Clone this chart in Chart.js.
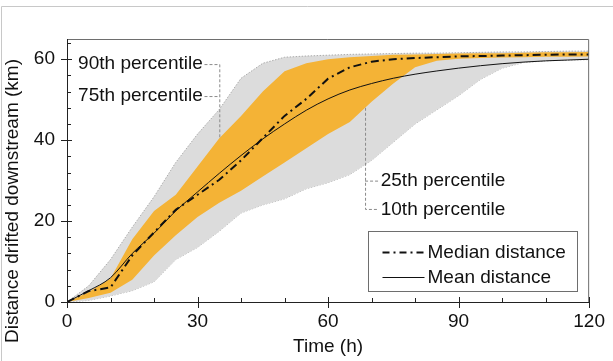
<!DOCTYPE html>
<html>
<head>
<meta charset="utf-8">
<script src="https://cdn.jsdelivr.net/npm/chart.js@4"></script>
<style>
    html, body { margin: 0; padding: 0; background: #fff; }
    #wrap { width: 613px; height: 361px; position: relative; }
</style>
</head>
<body>
<div id="wrap"><canvas id="myChart"></canvas></div>
<script>
// Hours since release
const hours = [0, 5, 10, 15, 20, 25, 30, 35, 40, 45, 50, 55, 60, 65, 70, 75, 80, 85, 90, 95, 100, 105, 110, 115, 120];

// Distance drifted downstream (km)
const p90 = [0, 4.0, 10.5, 18.5, 26.0, 34.5, 41.5, 47.6, 55.3, 59.0, 60.5, 60.8, 61.0, 61.2, 61.3, 61.4, 61.5, 61.5, 61.6, 61.7, 61.8, 61.8, 61.9, 62.0, 62.0];
const p75 = [0, 2.5, 5.8, 15.5, 22.5, 26.5, 33.5, 40.5, 46.0, 52.0, 57.0, 59.0, 60.0, 60.5, 60.8, 61.1, 61.2, 61.3, 61.4, 61.5, 61.5, 61.6, 61.7, 61.7, 61.8];
const p25 = [0, 1.0, 2.3, 5.5, 11.5, 16.5, 21.0, 24.5, 27.5, 31.0, 34.5, 38.0, 41.5, 44.5, 49.5, 54.0, 58.0, 59.6, 60.1, 60.3, 60.4, 60.5, 60.6, 60.6, 60.7];
const p10 = [0, 0.4, 1.5, 2.8, 5.0, 10.5, 13.5, 17.5, 22.0, 24.0, 25.5, 28.0, 29.5, 31.5, 35.0, 39.5, 44.0, 47.5, 51.0, 55.0, 57.8, 59.2, 59.6, 59.8, 59.9];
const median = [0, 2.7, 3.6, 11.5, 17.2, 22.8, 26.5, 30.2, 35.0, 40.5, 46.0, 50.2, 55.2, 58.0, 59.4, 60.0, 60.3, 60.5, 60.7, 60.8, 60.9, 61.0, 61.1, 61.2, 61.2];
const mean = [0, 2.8, 6.0, 12.0, 17.0, 22.5, 27.2, 31.8, 36.2, 40.3, 44.0, 47.4, 50.2, 52.4, 54.0, 55.3, 56.3, 57.1, 57.8, 58.4, 58.9, 59.3, 59.6, 59.8, 60.0];

const xTicks = [0, 30, 60, 90, 120];
const yTicks = [0, 20, 40, 60];

const FONT = 'Liberation Sans, Arial, sans-serif';
const SIZE = 19;

function pts(values) {
    return hours.map((h, i) => ({ x: h, y: values[i] }));
}

// Frame, tick marks, y title, percentile labels and legend box
const decorations = {
    id: 'decorations',
    afterDatasetsDraw(chart) {
        const c = chart.ctx;
        const xs = chart.scales.x;
        const ys = chart.scales.y;
        const a = chart.chartArea;
        const X = v => xs.getPixelForValue(v);
        const Y = v => ys.getPixelForValue(v);

        c.save();

        // light outer frame
        c.strokeStyle = '#c8c8c8';
        c.lineWidth = 1;
        c.beginPath();
        c.moveTo(1.5, 361);
        c.lineTo(1.5, 6.5);
        c.lineTo(613, 6.5);
        c.stroke();

        // plot box
        c.strokeStyle = '#6e6e6e';
        c.beginPath();
        c.moveTo(a.left, a.top + 0.5);
        c.lineTo(a.right - 0.5, a.top + 0.5);
        c.lineTo(a.right - 0.5, a.bottom);
        c.stroke();
        c.strokeStyle = '#222';
        c.beginPath();
        c.moveTo(a.left + 0.5, a.top);
        c.lineTo(a.left + 0.5, a.bottom + 0.5);
        c.lineTo(a.right, a.bottom + 0.5);
        c.stroke();

        // x ticks: major every 30, minor every 10
        c.beginPath();
        for (let v = 0; v <= 120; v += 10) {
            const px = Math.round(X(v)) + 0.5;
            if (v % 30 === 0) {
                c.moveTo(px, a.bottom - 5);
                c.lineTo(px, a.bottom + 6);
            } else {
                c.moveTo(px, a.bottom - 4);
                c.lineTo(px, a.bottom);
            }
        }
        // y ticks: major every 20, minor every 4
        for (let v = 0; v <= 64; v += 4) {
            const py = Math.round(Y(v)) + 0.5;
            if (v % 20 === 0) {
                c.moveTo(a.left - 6, py);
                c.lineTo(a.left + 5, py);
            } else {
                c.moveTo(a.left, py);
                c.lineTo(a.left + 4, py);
            }
        }
        c.stroke();

        // y axis title
        c.fillStyle = '#111';
        c.font = SIZE + 'px ' + FONT;
        c.textAlign = 'center';
        c.textBaseline = 'middle';
        c.translate(13, 201);
        c.rotate(-Math.PI / 2);
        c.fillText('Distance drifted downstream (km)', 0, 0);
        c.setTransform(1, 0, 0, 1, 0, 0);

        // percentile leader lines
        c.strokeStyle = '#8a8a8a';
        c.setLineDash([3, 2]);
        c.beginPath();
        c.moveTo(X(31.6), Y(58.8) + 0.5);
        c.lineTo(X(35) + 0.5, Y(58.8) + 0.5);
        c.lineTo(X(35) + 0.5, Y(40.5));
        c.moveTo(X(31.6), Y(50.9) + 0.5);
        c.lineTo(X(35), Y(50.9) + 0.5);
        c.moveTo(X(68.5) + 0.5, Y(48));
        c.lineTo(X(68.5) + 0.5, Y(23.0) + 0.5);
        c.lineTo(X(71.6), Y(23.0) + 0.5);
        c.moveTo(X(68.5), Y(30.0) + 0.5);
        c.lineTo(X(71.6), Y(30.0) + 0.5);
        c.stroke();
        c.setLineDash([]);

        // percentile labels
        c.fillStyle = '#111';
        c.textAlign = 'right';
        c.fillText('90th percentile', X(31.2), Y(58.8));
        c.fillText('75th percentile', X(31.2), Y(50.9));
        c.textAlign = 'left';
        c.fillText('25th percentile', X(72.1), Y(30.0));
        c.fillText('10th percentile', X(72.1), Y(22.8));

        // legend
        const bx = Math.round(X(69.2)) + 0.5;
        const by = Math.round(Y(17.5)) + 0.5;
        const bw = Math.round(X(117.3) - X(69.2));
        const bh = Math.round(Y(2.6) - Y(17.5));
        c.fillStyle = '#fff';
        c.fillRect(bx, by, bw, bh);
        c.strokeStyle = '#6e6e6e';
        c.lineWidth = 1;
        c.strokeRect(bx, by, bw, bh);

        const row1 = by + 21;
        const row2 = by + 46;
        c.strokeStyle = '#111';
        c.lineWidth = 2;
        c.setLineDash([7, 4, 2, 4]);
        c.beginPath();
        c.moveTo(bx + 14, row1);
        c.lineTo(bx + 56, row1);
        c.stroke();
        c.setLineDash([]);
        c.lineWidth = 1;
        c.beginPath();
        c.moveTo(bx + 14, row2);
        c.lineTo(bx + 56, row2);
        c.stroke();

        c.fillStyle = '#111';
        c.textAlign = 'left';
        c.fillText('Median distance', bx + 59, row1);
        c.fillText('Mean distance', bx + 59, row2);

        c.restore();
    }
};

const ctx = document.getElementById('myChart').getContext('2d');

new Chart(ctx, {
    type: 'line',
    data: {
        datasets: [
            {
                label: '90th percentile',
                data: pts(p90),
                fill: 3,
                backgroundColor: '#dcdcdc',
                borderColor: '#9a9a9a',
                borderWidth: 0.8,
                borderDash: [1.5, 1.5],
                order: 4
            },
            {
                label: '75th percentile',
                data: pts(p75),
                fill: 2,
                backgroundColor: '#f4b336',
                borderColor: 'rgba(0,0,0,0)',
                borderWidth: 0,
                order: 2
            },
            {
                label: '25th percentile',
                data: pts(p25),
                fill: false,
                borderColor: 'rgba(0,0,0,0)',
                borderWidth: 0,
                order: 3
            },
            {
                label: '10th percentile',
                data: pts(p10),
                fill: false,
                borderColor: '#9a9a9a',
                borderWidth: 0.8,
                borderDash: [1.5, 1.5],
                order: 5
            },
            {
                label: 'Median distance',
                data: pts(median),
                fill: false,
                borderColor: '#111',
                borderWidth: 2,
                borderDash: [8, 4, 2, 4],
                order: 1
            },
            {
                label: 'Mean distance',
                data: pts(mean),
                fill: false,
                borderColor: '#111',
                borderWidth: 1,
                cubicInterpolationMode: 'monotone',
                order: 0
            }
        ]
    },
    options: {
        responsive: true,
        maintainAspectRatio: false,
        devicePixelRatio: 1,
        animation: false,
        elements: {
            point: { radius: 0 },
            line: { tension: 0 }
        },
        layout: {
            padding: { left: 0, top: 39, right: 22, bottom: 0 }
        },
        plugins: {
            legend: { display: false },
            tooltip: { enabled: false }
        },
        scales: {
            x: {
                type: 'linear',
                min: 0,
                max: 120,
                afterFit: scale => { scale.height = 59; },
                afterBuildTicks: scale => { scale.ticks = xTicks.map(v => ({ value: v })); },
                grid: { display: false, drawTicks: false },
                border: { display: false },
                ticks: {
                    padding: 8,
                    color: '#111',
                    maxRotation: 0,
                    font: { family: FONT, size: SIZE }
                },
                title: {
                    display: true,
                    text: 'Time (h)',
                    color: '#111',
                    padding: { top: 0, bottom: 3 },
                    font: { family: FONT, size: SIZE }
                }
            },
            y: {
                min: 0,
                max: 65,
                afterFit: scale => { scale.width = 67; },
                afterBuildTicks: scale => { scale.ticks = yTicks.map(v => ({ value: v })); },
                grid: { display: false, drawTicks: false },
                border: { display: false },
                ticks: {
                    padding: 12,
                    color: '#111',
                    font: { family: FONT, size: SIZE }
                },
                title: { display: false }
            }
        }
    },
    plugins: [decorations]
});
</script>
</body>
</html>
